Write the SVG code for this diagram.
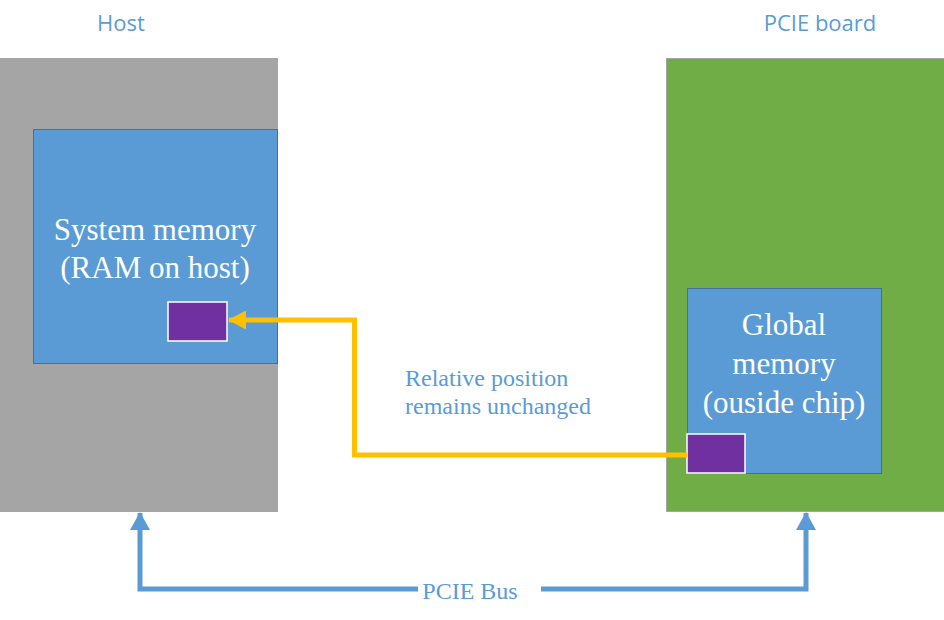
<svg xmlns="http://www.w3.org/2000/svg" width="944" height="620" viewBox="0 0 944 620">
<defs>
<style>
.lbl{font-family:"Open Sans","Noto Sans","DejaVu Sans",sans-serif;font-size:22px;fill:#5b9bd5;text-anchor:middle}
.mem{font-family:"Liberation Serif","DejaVu Serif",serif;font-size:31px;fill:#ffffff;text-anchor:middle}
.note{font-family:"Liberation Serif","DejaVu Serif",serif;font-size:24px;fill:#5b9bd5}
.blue{fill:#5b9bd5;stroke:#41719c;stroke-width:1}
.buf{fill:#7030a0;stroke:#ffffff;stroke-width:1.5}
</style>
<marker id="ya" markerWidth="18" markerHeight="19" refX="17" refY="9.5" orient="auto" markerUnits="userSpaceOnUse">
<path d="M0,0 L18,9.5 L0,19 Z" fill="#ffc000"/>
</marker>
<marker id="ba" markerWidth="18" markerHeight="20" refX="17" refY="10" orient="auto" markerUnits="userSpaceOnUse">
<path d="M0,0 L18,10 L0,20 Z" fill="#5b9bd5"/>
</marker>
</defs>
<rect width="944" height="620" fill="#ffffff"/>
<g id="host">
<rect x="0" y="58" width="278" height="454" fill="#a5a5a5"/>
<text class="lbl" x="121" y="31">Host</text>
</g>
<g id="pcie-board">
<rect x="666.5" y="58.5" width="278" height="453" fill="#70ad47" stroke="#a5a5a5" stroke-width="1"/>
<text class="lbl" x="820" y="31">PCIE board</text>
</g>
<g id="system-memory">
<rect class="blue" x="33.5" y="129.5" width="244" height="234"/>
<text class="mem" x="155" y="240">System memory</text>
<text class="mem" x="155" y="278">(RAM on host)</text>
</g>
<g id="host-buffer">
<rect class="buf" x="168" y="302" width="59" height="39"/>
</g>
<g id="global-memory">
<rect class="blue" x="687.5" y="288.5" width="194" height="185"/>
<text class="mem" x="784" y="335">Global</text>
<text class="mem" x="784" y="374">memory</text>
<text class="mem" x="784" y="413">(ouside chip)</text>
</g>
<g id="device-buffer">
<rect class="buf" x="687" y="434" width="58" height="39"/>
</g>
<g id="connectors">
<path d="M687,455 L354.5,455 L354.5,320 L229,320" fill="none" stroke="#ffc000" stroke-width="5" marker-end="url(#ya)"/>
<path d="M418,589 L140,589 L140,513" fill="none" stroke="#5b9bd5" stroke-width="5" marker-end="url(#ba)"/>
<path d="M541,589 L806,589 L806,513" fill="none" stroke="#5b9bd5" stroke-width="5" marker-end="url(#ba)"/>
</g>
<g id="labels">
<text class="note" x="405" y="386">Relative position</text>
<text class="note" x="405" y="414">remains unchanged</text>
<text class="note" x="470" y="599" style="text-anchor:middle">PCIE Bus</text>
</g>
</svg>
